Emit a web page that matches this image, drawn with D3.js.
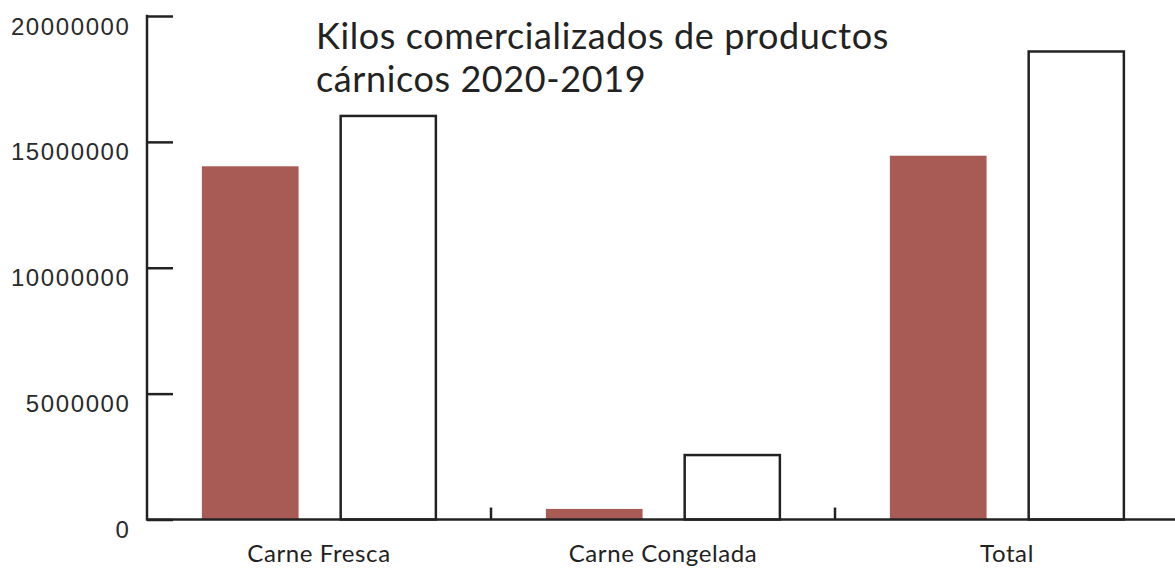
<!DOCTYPE html>
<html>
<head>
<meta charset="utf-8">
<script src="https://cdn.jsdelivr.net/npm/d3@7"></script>
<style>
  body { margin: 0; background: #fff; }
  svg { display: block; }
</style>
</head>
<body>
<div id="chart"></div>
<script>
// data
const categories = ["Carne Fresca", "Carne Congelada", "Total"]
const series = ["2020", "2019"]
const kilos2020 = [14030000, 420000, 14450000]
const kilos2019 = [16030000, 2560000, 18590000]
const yTicks = [0, 5000000, 10000000, 15000000, 20000000]
const title = ["Kilos comercializados de productos", "cárnicos 2020-2019"]

const width = 1175, height = 568
const mLeft = 147, mBottom = 519.5, mTop = 16

const rows = categories.map((c, i) => ({cat: c, values: [
  {key: "2020", v: kilos2020[i]},
  {key: "2019", v: kilos2019[i]}
]}))

let svg = d3.select("#chart").append("svg")
  .attr("width", width)
  .attr("height", height)

const x = d3.scaleBand().domain(categories).range([mLeft, mLeft + 344 * 3]).padding(0)
const xs = d3.scaleBand().domain(series).range([0, x.bandwidth()])
  .paddingInner(0.297).paddingOuter(0.399)
const y = d3.scaleLinear().domain([0, 20000000]).range([mBottom, mTop])

// bars
const g = svg.append("g")
g.selectAll("g")
  .data(rows)
  .join("g")
  .attr("transform", d => `translate(${x(d.cat)},0)`)
  .selectAll("rect")
  .data(d => d.values)
  .join("rect")
    .attr("x", d => xs(d.key) + (d.key == "2019" ? 1.25 : 0))
    .attr("width", d => xs.bandwidth() - (d.key == "2019" ? 1.5 : 0))
    .attr("y", d => y(d.v))
    .attr("height", d => y(0) - y(d.v))
    .attr("fill", d => d.key == "2020" ? "#a85a55" : "#fff")
    .attr("stroke", d => d.key == "2020" ? "none" : "#222")
    .attr("stroke-width", 2.5)

// y axis
const yAxis = svg.append("g")
  .attr("transform", `translate(${mLeft},0)`)
  .call(d3.axisRight(y).tickValues(yTicks).tickSize(26).tickFormat(d3.format("d")))
yAxis.select(".domain").remove()
yAxis.selectAll(".tick line").attr("stroke", "#222").attr("stroke-width", 2.5)
yAxis.selectAll(".tick text")
  .attr("x", -16.5)
  .attr("dy", "0.75em")
  .attr("text-anchor", "end")
  .attr("fill", "#2a2a2a")
  .style("font-family", "Liberation Sans, Arial, sans-serif")
  .style("font-size", "24px")
  .style("letter-spacing", "1.6px")

svg.append("line")
  .attr("x1", mLeft).attr("x2", mLeft)
  .attr("y1", mTop - 1.25).attr("y2", mBottom + 1.25)
  .attr("stroke", "#222").attr("stroke-width", 2.5)

// x axis
svg.append("line")
  .attr("x1", mLeft).attr("x2", width)
  .attr("y1", mBottom).attr("y2", mBottom)
  .attr("stroke", "#222").attr("stroke-width", 2.5)

svg.append("g").selectAll("line")
  .data(categories.slice(1))
  .join("line")
  .attr("x1", d => x(d)).attr("x2", d => x(d))
  .attr("y1", mBottom - 12).attr("y2", mBottom)
  .attr("stroke", "#222").attr("stroke-width", 2.5)

svg.append("g").selectAll("text")
  .data(categories)
  .join("text")
  .attr("x", d => x(d) + x.bandwidth() / 2)
  .attr("y", 562)
  .attr("text-anchor", "middle")
  .attr("fill", "#222")
  .style("font-family", "Lato, sans-serif")
  .style("font-size", "24px")
  .style("letter-spacing", "0.6px")
  .text(d => d)

// title
svg.append("text")
  .attr("x", 316)
  .attr("y", 49)
  .attr("fill", "#222")
  .style("font-family", "Lato, sans-serif")
  .style("font-size", "36px")
  .style("letter-spacing", "0.6px")
  .selectAll("tspan")
  .data(title)
  .join("tspan")
  .attr("x", 316)
  .attr("dy", (d, i) => i == 0 ? 0 : 43)
  .text(d => d)
</script>
</body>
</html>
